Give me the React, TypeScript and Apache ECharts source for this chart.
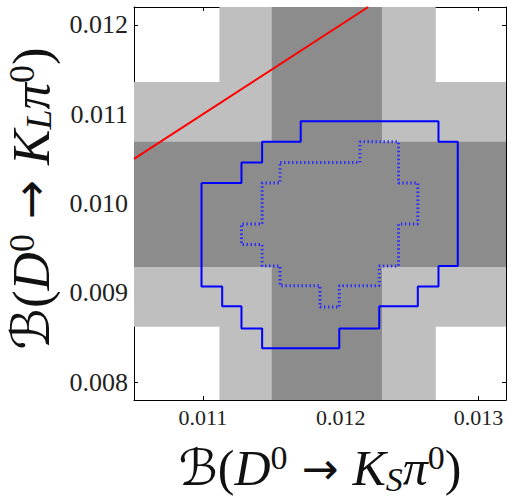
import React, { useEffect, useRef } from "react";
import * as echarts from "echarts";

const xRange = [0.0105, 0.0132];
const yRange = [0.0078, 0.0122];
const xTicks = [0.011, 0.012, 0.013];
const yTicks = [0.008, 0.009, 0.01, 0.011, 0.012];

// error bands: light horizontal, light vertical, dark horizontal, dark vertical
const bandX0 = [0.0105, 0.01112, 0.0105, 0.0115];
const bandX1 = [0.0132, 0.01269, 0.0132, 0.0123];
const bandY0 = [0.00862, 0.0078, 0.00929, 0.0078];
const bandY1 = [0.01136, 0.0122, 0.01069, 0.0122];
const bandShade = ["light", "light", "dark", "dark"];

// y = x reference line
const diagX = [0.0105, 0.0122];
const diagY = [0.0105, 0.0122];

// outer (solid) contour vertices
const outerX = [
  0.01099, 0.01128, 0.01128, 0.01143, 0.01143, 0.01171, 0.01171, 0.01271, 0.01271, 0.01285,
  0.01285, 0.01271, 0.01271, 0.01256, 0.01256, 0.01228, 0.01228, 0.01199, 0.01199, 0.01143,
  0.01143, 0.01128, 0.01128, 0.01114, 0.01114, 0.01099, 0.01099,
];
const outerY = [
  0.01023, 0.01023, 0.01046, 0.01046, 0.01069, 0.01069, 0.01092, 0.01092, 0.01069, 0.01069,
  0.0093, 0.0093, 0.00907, 0.00907, 0.00885, 0.00885, 0.0086, 0.0086, 0.00838, 0.00838,
  0.0086, 0.0086, 0.00885, 0.00885, 0.00907, 0.00907, 0.01023,
];

// inner (dotted) contour vertices
const innerX = [
  0.01156, 0.01214, 0.01214, 0.01242, 0.01242, 0.01256, 0.01256, 0.01242, 0.01242, 0.01228,
  0.01228, 0.01199, 0.01199, 0.01185, 0.01185, 0.01156, 0.01156, 0.01143, 0.01143, 0.01128,
  0.01128, 0.01143, 0.01143, 0.01156, 0.01156,
];
const innerY = [
  0.01046, 0.01046, 0.01069, 0.01069, 0.01023, 0.01023, 0.00977, 0.00977, 0.0093, 0.0093,
  0.00908, 0.00908, 0.00884, 0.00884, 0.00908, 0.00908, 0.0093, 0.0093, 0.00954, 0.00954,
  0.00977, 0.00977, 0.01023, 0.01023, 0.01046,
];

const SERIF = "Liberation Serif, DejaVu Serif, DejaVu Sans, serif";
const shadeColor: Record<string, string> = { light: "#bfbfbf", dark: "#8c8c8c" };

const makeRich = (s: number, lhScale: number) => {
  const L = Math.round(s * lhScale);
  const small = Math.round(s * 0.68);
  const smallLH = Math.round(s * 0.6);
  return {
    n: { fontSize: s, lineHeight: L, fontFamily: SERIF, color: "#111" },
    i: { fontSize: s, lineHeight: L, fontFamily: SERIF, fontStyle: "italic", color: "#111" },
    arr: { fontSize: Math.round(s * 0.88), lineHeight: L, fontFamily: "DejaVu Sans", color: "#111" },
    sup: { fontSize: small, lineHeight: smallLH, fontFamily: SERIF, verticalAlign: "top", color: "#111" },
    sub: { fontSize: small, lineHeight: smallLH, fontFamily: SERIF, fontStyle: "italic", verticalAlign: "bottom", color: "#111" },
  };
};

const fmt = (v: number) => v.toFixed(3);

export default function App() {
  const ref = useRef<HTMLDivElement>(null);
  useEffect(() => {
    if (!ref.current) return;
    const chart = echarts.init(ref.current, undefined, { renderer: "svg" });
    const bandData = bandX0.map((x0, k) => [x0, bandX1[k], bandY0[k], bandY1[k]]);
    const axisCommon = {
      type: "value" as const,
      splitLine: { show: false },
      axisLine: { show: true, onZero: false, lineStyle: { color: "#000", width: 1 } },
    };
    chart.setOption({
      animation: false,
      backgroundColor: "#fff",
      grid: { left: 134, right: 2, top: 7, bottom: 96, containLabel: false, outerBoundsMode: "none" },
      xAxis: [
        {
          ...axisCommon,
          min: xRange[0],
          max: xRange[1],
          position: "bottom",
          axisTick: { show: true, inside: true, length: 4, customValues: xTicks, lineStyle: { color: "#000" } },
          axisLabel: { customValues: xTicks, formatter: fmt, fontSize: 22, fontFamily: SERIF, color: "#222", margin: 6 },
          name: "{n|ℬ(}{i|D}{sup|0}{arr| → }{i|K}{sub|S}{i|π}{sup|0}{n|)}",
          nameLocation: "middle",
          nameGap: 40,
          nameTextStyle: { rich: makeRich(50, 1.12) },
        },
        {
          ...axisCommon,
          min: xRange[0],
          max: xRange[1],
          position: "top",
          axisTick: { show: true, inside: true, length: 4, customValues: xTicks, lineStyle: { color: "#000" } },
          axisLabel: { show: false },
        },
      ],
      yAxis: [
        {
          ...axisCommon,
          min: yRange[0],
          max: yRange[1],
          position: "left",
          axisTick: { show: true, inside: true, length: 4, customValues: yTicks, lineStyle: { color: "#000" } },
          axisLabel: { customValues: yTicks, formatter: fmt, fontSize: 26, fontFamily: SERIF, color: "#222", margin: 6 },
          name: "{n|ℬ(}{i|D}{sup|0}{arr| → }{i|K}{sub|L}{i|π}{sup|0}{n|)}",
          nameLocation: "middle",
          nameRotate: 90,
          nameGap: 77,
          nameTextStyle: { rich: makeRich(53, 1.0), padding: [0, 0, 0, 10] },
        },
        {
          ...axisCommon,
          min: yRange[0],
          max: yRange[1],
          position: "right",
          axisTick: { show: true, inside: true, length: 4, customValues: yTicks, lineStyle: { color: "#000" } },
          axisLabel: { show: false },
        },
      ],
      series: [
        {
          type: "custom",
          z: 1,
          silent: true,
          clip: true,
          encode: { x: [0, 1], y: [2, 3] },
          data: bandData,
          renderItem: (params: any, api: any) => {
            const p0 = api.coord([api.value(0), api.value(3)]);
            const p1 = api.coord([api.value(1), api.value(2)]);
            return {
              type: "rect",
              shape: { x: p0[0], y: p0[1], width: p1[0] - p0[0], height: p1[1] - p0[1] },
              style: { fill: shadeColor[bandShade[params.dataIndex]] },
            };
          },
        },
        {
          type: "line",
          z: 3,
          silent: true,
          showSymbol: false,
          data: diagX.map((x, k) => [x, diagY[k]]),
          lineStyle: { color: "#ff0000", width: 2 },
        },
        {
          type: "line",
          z: 4,
          silent: true,
          showSymbol: false,
          data: outerX.map((x, k) => [x, outerY[k]]),
          lineStyle: { color: "#0000ff", width: 2 },
        },
        {
          type: "line",
          z: 5,
          silent: true,
          showSymbol: false,
          data: innerX.map((x, k) => [x, innerY[k]]),
          lineStyle: { color: "#2a2aff", width: 3, type: [1.4, 2.6] },
        },
      ],
    });
    return () => chart.dispose();
  }, []);
  return <div ref={ref} style={{ position: "absolute", left: 0, top: 0, width: 508, height: 496 }} />;
}
